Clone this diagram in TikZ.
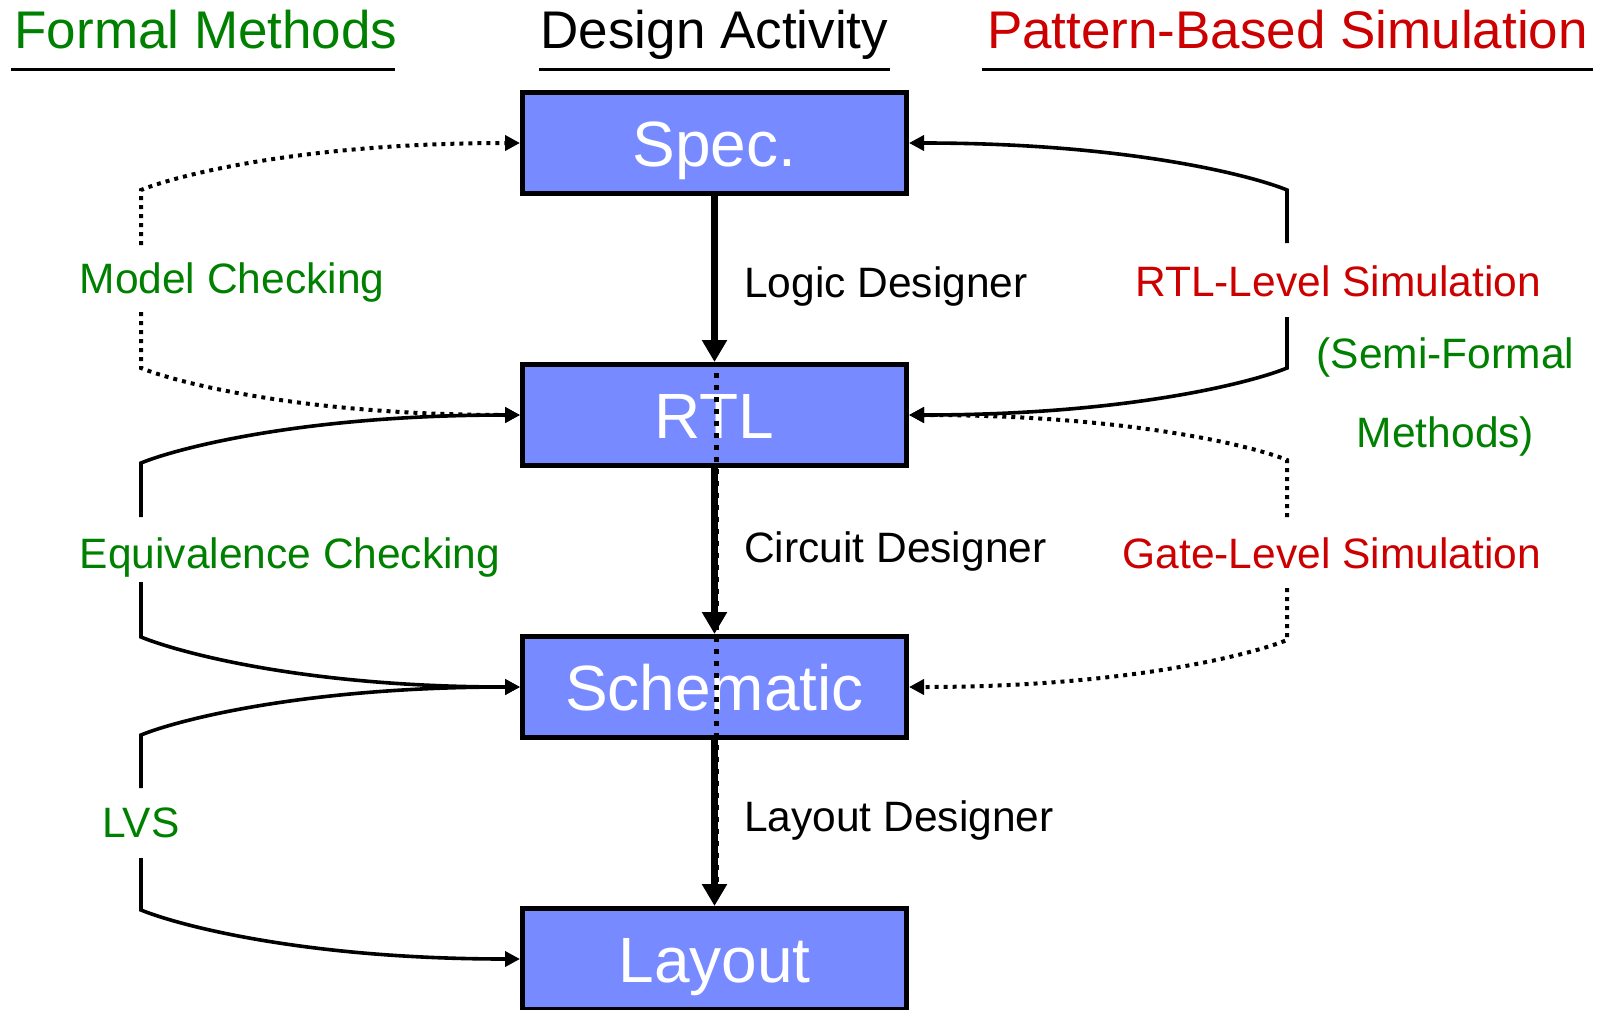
\documentclass[tikz,border=0pt]{standalone}
\usepackage{fontspec}
\setmainfont{Liberation Sans}
\usetikzlibrary{arrows.meta}
\definecolor{boxblue}{RGB}{120,138,255}
\definecolor{fmgreen}{RGB}{0,128,0}
\definecolor{simred}{RGB}{204,0,0}

\begin{document}
\begin{tikzpicture}[x=1pt,y=-1pt,
  stage/.style={draw=black, line width=5pt, fill=boxblue,
    minimum width=384pt, minimum height=101pt, inner sep=0pt,
    text=white, font=\fontsize{64}{64}\selectfont,
    text height=46pt, text depth=0pt},
  head/.style={anchor=base, inner sep=0pt, font=\fontsize{53}{53}\selectfont},
  lbl/.style={anchor=base, inner sep=0pt, font=\fontsize{42.5}{42.5}\selectfont},
  headrule/.style={line width=3pt},
  flow/.style={line width=7pt, -{Triangle[length=22pt,width=24pt]}},
  link/.style={line width=3.6pt, -{Triangle[length=15pt,width=15pt]}},
  dotlink/.style={line width=4pt, dash pattern=on 4pt off 5pt,
    -{Triangle[length=15pt,width=15pt]}},
]
\useasboundingbox (0,0) rectangle (1603,1009);

% column headings
\node[head, text=fmgreen] (hfm) at (206,48) {Formal Methods};
\node[head, text=black] (hda) at (714.5,48) {Design Activity};
\node[head, text=simred] (hps) at (1287.5,48) {Pattern-Based Simulation};
\draw[headrule] (11,69.5) -- (395,69.5);
\draw[headrule] (539,69.5) -- (890,69.5);
\draw[headrule] (982,69.5) -- (1593,69.5);

% design stages
\node[stage] (spec) at (714.5,143) {Spec.};
\node[stage] (rtl) at (714.5,415) {RTL};
\node[stage] (schem) at (714.5,687) {Schematic};
\node[stage] (layout) at (714.5,959) {Layout};

% design flow
\draw[flow] (spec) -- (rtl);
\draw[flow] (rtl) -- (schem);
\draw[flow] (schem) -- (layout);
\node[lbl, anchor=base west] (ld) at (744,297) {Logic Designer};
\node[lbl, anchor=base west] (cd) at (744,562) {Circuit Designer};
\node[lbl, anchor=base west] (lyd) at (744,831) {Layout Designer};

% formal methods (left)
\node[lbl, text=fmgreen] (mc) at (232,293) {Model Checking};
\node[lbl, text=fmgreen] (eq) at (290,568) {Equivalence Checking};
\node[lbl, text=fmgreen] (lvs) at (141,837) {LVS};

\coordinate (mcA) at (141,245);
\coordinate (mcB) at (141,312);
\coordinate (eqA) at (141,517);
\coordinate (eqB) at (141,582);
\coordinate (lvsA) at (141,788);
\coordinate (lvsB) at (141,858);

\draw[dotlink] (mcA) -- (141,190) .. controls (175,176) and (300,143) .. (spec.west);
\draw[dotlink] (mcB) -- (141,368) .. controls (175,382) and (300,415) .. (rtl.west);
\draw[link] (eqA) -- (141,463) .. controls (175,449) and (300,415) .. (rtl.west);
\draw[link] (eqB) -- (141,637) .. controls (175,651) and (300,687) .. (schem.west);
\draw[link] (lvsA) -- (141,735) .. controls (175,721) and (300,687) .. (schem.west);
\draw[link] (lvsB) -- (141,910) .. controls (175,924) and (300,959) .. (layout.west);

% simulation (right)
\node[lbl, text=simred, anchor=base east] (rs) at (1541,296) {RTL-Level Simulation};
\node[lbl, text=fmgreen] (sf1) at (1445.5,368) {(Semi-Formal};
\node[lbl, text=fmgreen] (sf2) at (1445.5,447) {Methods)};
\node[lbl, text=simred, anchor=base east] (gl) at (1541,568) {Gate-Level Simulation};

\coordinate (rsA) at (1287,243);
\coordinate (rsB) at (1287,317);
\coordinate (glA) at (1287,517);
\coordinate (glB) at (1287,588);

\draw[link] (rsA) -- (1287,190) .. controls (1253,176) and (1129,143) .. (spec.east);
\draw[link] (rsB) -- (1287,368) .. controls (1253,382) and (1129,415) .. (rtl.east);
\draw[dotlink] (glA) -- (1287,460) .. controls (1253,446) and (1129,415) .. (rtl.east);
\draw[dotlink] (glB) -- (1287,640) .. controls (1253,654) and (1129,687) .. (schem.east);

% dotted trace down the centre of the flow
\coordinate (trA) at (716.5,373);
\coordinate (trB) at (716.5,900);
\draw[line width=4.5pt, dash pattern=on 4.5pt off 7.5pt] (trA) -- (trB);
\end{tikzpicture}
\end{document}
